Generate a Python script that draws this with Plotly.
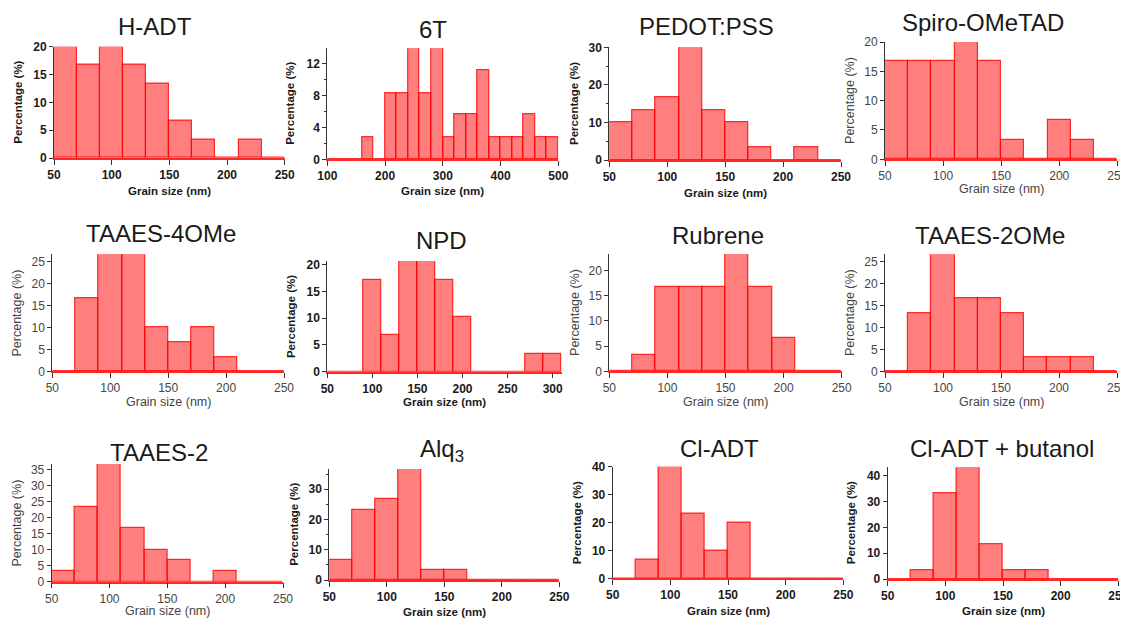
import plotly.graph_objects as go

W, H = 1128, 620
OFF = 8  # page body margin of the browser

# ---------------- data (percentages per 20 nm bin; x = bin centres) ----------------
titles = ["H-ADT", "6T", "PEDOT:PSS", "Spiro-OMeTAD",
          "TAAES-4OMe", "NPD", "Rubrene", "TAAES-2OMe",
          "TAAES-2", "Alq<sub>3</sub>", "Cl-ADT", "Cl-ADT + butanol"]

std_bins = [60, 80, 100, 120, 140, 160, 180, 200, 220, 240]
t6_bins = [110, 130, 150, 170, 190, 210, 230, 250, 270, 290,
           310, 330, 350, 370, 390, 410, 430, 450, 470, 490]
npd_bins = [60, 80, 100, 120, 140, 160, 180, 200, 220, 240, 260, 280, 300]

h_adt = [20.0, 16.7, 20.0, 16.7, 13.3, 6.7, 3.3, 0.0, 3.3, 0.0]
t6 = [0.0, 0.0, 0.0, 2.8, 0.0, 8.3, 8.3, 13.9, 8.3, 13.9,
      2.8, 5.6, 5.6, 11.1, 2.8, 2.8, 2.8, 5.6, 2.8, 2.8]
pedot = [10.0, 13.3, 16.7, 30.0, 13.3, 10.0, 3.3, 0.0, 3.3, 0.0]
spiro = [16.7, 16.7, 16.7, 20.0, 16.7, 3.3, 0.0, 6.7, 3.3, 0.0]
taaes_4ome = [0.0, 16.7, 26.7, 26.7, 10.0, 6.7, 10.0, 3.3, 0.0, 0.0]
npd = [0.0, 0.0, 17.2, 6.9, 20.7, 20.7, 17.2, 10.3, 0.0, 0.0, 0.0, 3.4, 3.4]
rubrene = [0.0, 3.3, 16.7, 16.7, 16.7, 23.3, 16.7, 6.7, 0.0, 0.0]
taaes_2ome = [0.0, 13.3, 26.7, 16.7, 16.7, 13.3, 3.3, 3.3, 3.3, 0.0]
taaes_2 = [3.3, 23.3, 36.7, 16.7, 10.0, 6.7, 0.0, 3.3, 0.0, 0.0]
alq3 = [6.7, 23.3, 26.7, 36.7, 3.3, 3.3, 0.0, 0.0, 0.0, 0.0]
cl_adt = [0.0, 6.7, 40.0, 23.3, 10.0, 20.0, 0.0, 0.0, 0.0, 0.0]
cl_adt_but = [0.0, 3.3, 33.3, 43.3, 13.3, 3.3, 3.3, 0.0, 0.0, 0.0]

series = [(std_bins, h_adt), (t6_bins, t6), (std_bins, pedot), (std_bins, spiro),
          (std_bins, taaes_4ome), (npd_bins, npd), (std_bins, rubrene), (std_bins, taaes_2ome),
          (std_bins, taaes_2), (std_bins, alq3), (std_bins, cl_adt), (std_bins, cl_adt_but)]

x_ranges = [[50, 250], [100, 500], [50, 250], [50, 250],
            [50, 250], [50, 310], [50, 250], [50, 250],
            [50, 250], [50, 250], [50, 250], [50, 250]]
y_tops = [20, 13.9, 30, 20, 26.7, 20.7, 23.3, 26.7, 36.7, 36.7, 40, 43.3]
x_dticks = [50, 100, 50, 50, 50, 50, 50, 50, 50, 50, 50, 50]
y_dticks = [5, 4, 10, 5, 5, 5, 5, 5, 5, 10, 10, 10]
y_minor = [None, 2, 5, None, None, None, None, None, None, 5, None, None]
bold = [True, True, True, False, False, True, False, False, False, True, True, True]

# ---------------- layout geometry (screen pixels) ----------------
# (x at range start, x at range end, y at 0, y at top)
boxes = [(54, 284.7, 158, 46.7), (327.3, 558.3, 159.3, 48.3), (609.3, 841, 160, 47.3), (885, 1117.3, 159.3, 42),
         (52.3, 284, 371.3, 254.3), (327.3, 561.7, 371.7, 261), (609.3, 841.7, 371.3, 254), (885, 1117, 371.3, 254.3),
         (51.7, 283, 581.7, 464), (329.3, 559.3, 580, 469), (612.7, 843.3, 578.3, 466.7), (887.7, 1118.3, 579, 467.3)]
title_pos = [(155, 27), (433.3, 29), (706.5, 27), (982.5, 22.7),
             (161, 233.3), (441.7, 240.7), (717.8, 235), (989.5, 235),
             (159.2, 452.3), (441.7, 450.5), (719.2, 448.3), (1001.5, 448.3)]
ylab_x = [18.3, 290, 573.3, 849.3, 16.7, 291.7, 574.3, 849.3, 16.7, 293.3, 576.7, 851]
xlab_y = [191.5, 191.5, 192.5, 189.3, 402, 402, 402, 402, 610.7, 611.7, 610.7, 610.7]


def fx(px):
    return (px - OFF) / W


def fy(py):
    return 1 - (py - OFF) / H


FONT = "Liberation Sans, Arial, sans-serif"

fig = go.Figure()
annotations = []
layout = dict(width=W, height=H, margin=dict(l=0, r=0, t=0, b=0, pad=0, autoexpand=False),
              paper_bgcolor="white", plot_bgcolor="white", showlegend=False,
              font=dict(family=FONT))

for i in range(12):
    n = i + 1
    xs, ys = series[i]
    x0, x1, yb, yt = boxes[i]
    b = bold[i]
    tcol = "#1a1a1a" if b else "#454545"
    weight = "bold" if b else "normal"
    tsize = 12
    asize = 11.5 if b else 12.5

    fig.add_trace(go.Bar(
        x=xs, y=ys, width=20,
        marker=dict(color="rgba(255,0,0,0.5)", line=dict(color="rgba(255,0,0,0.8)", width=1.2)),
        xaxis=f"x{n}", yaxis=f"y{n}", hoverinfo="skip"))

    xa = dict(domain=[fx(x0), fx(x1)], range=x_ranges[i], anchor=f"y{n}", automargin=False,
              showgrid=False, zeroline=False, showline=True, linecolor="rgb(255,40,40)", linewidth=1.5,
              ticks="outside", ticklen=5, tickcolor="#333", tickwidth=1,
              tick0=0, dtick=x_dticks[i],
              tickfont=dict(family=FONT, size=tsize, color=tcol, weight=weight))
    ya = dict(domain=[fy(yb), fy(yt)], range=[0, y_tops[i]], anchor=f"x{n}", automargin=False,
              showgrid=False, zeroline=False, showline=True, linecolor="#333", linewidth=1,
              ticks="outside", ticklen=4, tickcolor="#333", tickwidth=1,
              tick0=0, dtick=y_dticks[i],
              tickfont=dict(family=FONT, size=tsize, color=tcol, weight=weight))
    if y_minor[i]:
        ya["minor"] = dict(dtick=y_minor[i], tick0=0, ticks="outside", ticklen=2, tickcolor="#333")
    key = "" if n == 1 else str(n)
    layout[f"xaxis{key}"] = xa
    layout[f"yaxis{key}"] = ya

    tx, ty = title_pos[i]
    annotations.append(dict(text=titles[i], x=fx(tx), y=fy(ty), xref="paper", yref="paper",
                            xanchor="center", yanchor="middle", showarrow=False,
                            font=dict(family=FONT, size=24, color="#1a1a1a")))
    annotations.append(dict(text="Percentage (%)", x=fx(ylab_x[i]), y=fy((yb + yt) / 2),
                            xref="paper", yref="paper", xanchor="center", yanchor="middle",
                            textangle=-90, showarrow=False,
                            font=dict(family=FONT, size=asize, color=tcol, weight=weight)))
    annotations.append(dict(text="Grain size (nm)", x=fx((x0 + x1) / 2), y=fy(xlab_y[i]),
                            xref="paper", yref="paper", xanchor="center", yanchor="middle",
                            showarrow=False,
                            font=dict(family=FONT, size=asize, color=tcol, weight=weight)))

layout["annotations"] = annotations
layout["bargap"] = 0
fig.update_layout(**layout)
fig.write_html("out.html")
